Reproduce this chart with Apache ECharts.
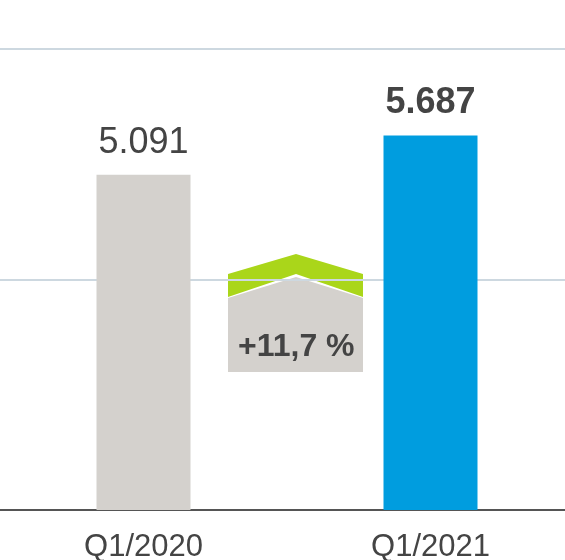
<!DOCTYPE html>
<html>
<head>
<meta charset="utf-8">
<script src="https://cdn.jsdelivr.net/npm/echarts@6/dist/echarts.min.js"></script>
<style>
  html, body { margin: 0; padding: 0; background: #ffffff; }
  #chart { width: 565px; height: 560px; }
</style>
</head>
<body>
<div id="chart"></div>
<script>
// quarterly values
var categories = ['Q1/2020', 'Q1/2021'];
var values = [5091, 5687];
var barColors = ['#d4d1cd', '#009ddf'];
var labelWeights = ['normal', 'bold'];

var fontFamily = 'Arial, "Liberation Sans", sans-serif';

function fmtDE(v) {
  return String(v).replace(/\B(?=(\d{3})+(?!\d))/g, '.');
}

var growth = ((values[1] / values[0] - 1) * 100).toFixed(1).replace('.', ',');

var chart = echarts.init(document.getElementById('chart'));

var option = {
  animation: false,
  grid: {
    left: 0,
    top: 49,
    width: 574,
    height: 461,
    outerBoundsMode: 'none',
    containLabel: false
  },
  xAxis: {
    type: 'category',
    data: categories,
    axisTick: { show: false },
    axisLine: {
      lineStyle: { color: '#555555', width: 2 }
    },
    axisLabel: {
      color: '#444444',
      fontSize: 31,
      fontFamily: fontFamily,
      margin: 22
    }
  },
  yAxis: {
    type: 'value',
    min: 0,
    max: 7000,
    interval: 3500,
    axisLabel: { show: false },
    axisLine: { show: false },
    axisTick: { show: false },
    splitLine: {
      lineStyle: { color: '#cdd8e0', width: 2 }
    }
  },
  series: [
    {
      type: 'bar',
      barWidth: 94,
      data: values.map(function (v, i) {
        return {
          value: v,
          itemStyle: { color: barColors[i] },
          label: { fontWeight: labelWeights[i] }
        };
      }),
      label: {
        show: true,
        position: 'top',
        distance: 14,
        color: '#444444',
        fontSize: 36,
        fontFamily: fontFamily,
        formatter: function (p) { return fmtDE(p.value); }
      }
    }
  ],
  graphic: [
    {
      type: 'group',
      left: 228,
      top: 254,
      z: 100,
      children: [
        {
          type: 'polygon',
          shape: { points: [[0, 20], [68, 0], [135, 20], [135, 43], [68, 20], [0, 43]] },
          style: { fill: '#aad61a' }
        },
        {
          type: 'polygon',
          shape: { points: [[0, 44], [68, 23], [135, 44], [135, 118], [0, 118]] },
          style: { fill: '#d4d1cd' }
        },
        {
          type: 'text',
          left: 10,
          top: 77,
          style: {
            text: '+' + growth + ' %',
            fill: '#444444',
            font: 'bold 32px ' + fontFamily
          }
        }
      ]
    }
  ]
};

chart.setOption(option);
</script>
</body>
</html>
